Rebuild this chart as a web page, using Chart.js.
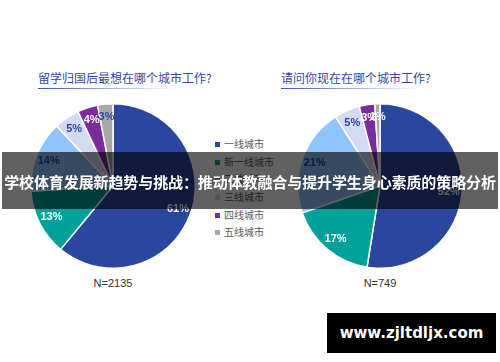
<!DOCTYPE html>
<html>
<head>
<meta charset="utf-8">
<script src="https://cdn.jsdelivr.net/npm/chart.js@4"></script>
<style>
  body { margin: 0; width: 500px; height: 362px; background: #fff; position: relative; overflow: hidden;
         font-family: "Noto Sans CJK SC", "Liberation Sans", sans-serif; }
  .title { position: absolute; top: 69px; font-size: 12px; color: #34489c; white-space: nowrap; }
  .uline { position: absolute; top: 88px; height: 1px; width: 140px;
           background: linear-gradient(to right, #3d55b0, rgba(61,85,176,0)); }
  .wrap { position: absolute; top: 101px; width: 170px; height: 170px; }
  .n { position: absolute; top: 277px; width: 120px; text-align: center; font-size: 11px; color: #333;
       font-family: "Liberation Sans", Arial, sans-serif; }
  #legend { position: absolute; left: 215px; top: 135px; font-size: 10px; color: #5a5a5a; }
  #legend div { height: 17.7px; line-height: 17.7px; white-space: nowrap; }
  #legend span { display: inline-block; width: 5px; height: 5px; margin-right: 4px; vertical-align: 1px; }
  .banner { position: absolute; left: 2px; top: 152px; width: 496px; height: 57px; background: rgba(0,0,0,0.62);
            color: #fff; font-weight: bold; font-size: 15px; line-height: 59px; text-align: center; white-space: nowrap;
            letter-spacing: -0.1px; }
  .mark { position: absolute; left: 327px; top: 313px; width: 169px; height: 40px; background: #000; color: #fff;
          font-family: "DejaVu Sans", sans-serif; font-weight: bold; font-size: 15px; line-height: 40px; text-align: center; }
</style>
</head>
<body>
<div class="title" style="left:38px">留学归国后最想在哪个城市工作?</div>
<div class="uline" style="left:38px"></div>
<div class="title" style="left:281px">请问你现在在哪个城市工作?</div>
<div class="uline" style="left:281px"></div>

<div class="wrap" style="left:28px"><canvas id="left"></canvas></div>
<div class="wrap" style="left:295px"><canvas id="right"></canvas></div>
<div class="n" style="left:53px">N=2135</div>
<div class="n" style="left:320px">N=749</div>
<div id="legend"></div>

<div class="banner">学校体育发展新趋势与挑战：推动体教融合与提升学生身心素质的策略分析</div>
<div class="mark">www.zjltdljx.com</div>

<script>
const cities = ['一线城市', '新一线城市', '二线城市', '三线城市', '四线城市', '五线城市'];
const wantValues = [61, 13, 14, 5, 4, 3];   // N=2135
const nowValues = [52, 17, 21, 5, 3, 1];    // N=749

const colors = ['#2c46a0', '#00a19b', '#8fc5ff', '#d3daf2', '#7a2c9c', '#a7a7a7'];

// legend
const legend = document.getElementById('legend');
cities.forEach((c, i) => {
    const row = document.createElement('div');
    row.innerHTML = '<span style="background:' + colors[i] + '"></span>' + c;
    legend.appendChild(row);
});

// percent labels inside the slices
const pctLabels = {
    id: 'pctLabels',
    afterDatasetsDraw(chart) {
        const ctx = chart.ctx;
        const ds = chart.data.datasets[0];
        chart.getDatasetMeta(0).data.forEach((arc, i) => {
            const p = arc.getProps(['x', 'y', 'startAngle', 'endAngle', 'outerRadius']);
            const mid = (p.startAngle + p.endAngle) / 2;
            const r = p.outerRadius * 0.84;
            ctx.save();
            ctx.font = 'bold 11px "Liberation Sans", Arial, sans-serif';
            ctx.fillStyle = ds.labelColors[i];
            ctx.textAlign = 'center';
            ctx.textBaseline = 'middle';
            ctx.fillText(ds.data[i] + '%', p.x + Math.cos(mid) * r, p.y + Math.sin(mid) * r);
            ctx.restore();
        });
    }
};

function makePie(id, values, labelColors) {
    new Chart(document.getElementById(id), {
        type: 'pie',
        data: {
            labels: cities,
            datasets: [{
                data: values,
                backgroundColor: colors,
                borderColor: '#fff',
                borderWidth: 1.5,
                labelColors: labelColors
            }]
        },
        options: {
            responsive: true,
            maintainAspectRatio: false,
            animation: false,
            layout: { padding: 2 },
            plugins: { legend: { display: false }, tooltip: { enabled: false } }
        },
        plugins: [pctLabels]
    });
}

makePie('left', wantValues, ['#fff', '#fff', '#2c46a0', '#2c46a0', '#fff', '#2c46a0']);
makePie('right', nowValues, ['#fff', '#fff', '#2c46a0', '#2c46a0', '#fff', '#fff']);
</script>
</body>
</html>
